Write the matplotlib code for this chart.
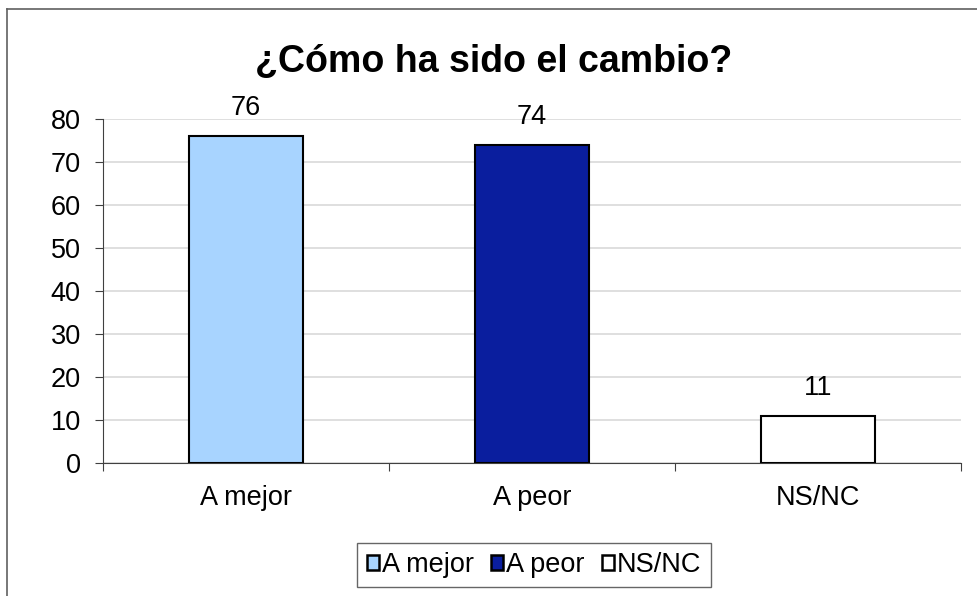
import matplotlib
matplotlib.use("Agg")
import matplotlib.pyplot as plt
from matplotlib.lines import Line2D
from matplotlib.patches import Patch
import numpy as np

categories = ["A mejor", "A peor", "NS/NC"]
values = [76, 74, 11]
colors = ["#A8D4FF", "#0A1E9E", "#FFFFFF"]
yticks = [0, 10, 20, 30, 40, 50, 60, 70, 80]
title = "¿Cómo ha sido el cambio?"

plt.rcParams['font.family'] = ['Liberation Sans', 'DejaVu Sans']
FS = 19.5

fig = plt.figure(figsize=(9.77, 5.96), dpi=100)
ax = fig.add_axes([103/977, 1-463/596, (961-103)/977, (463-119)/596])

x = np.arange(len(categories))
bars = ax.bar(x, values, width=0.4, color=colors, edgecolor="black", linewidth=1.5, zorder=3)

for xi, v in zip(x, values):
    ax.annotate(str(v), (xi, v), xytext=(0, 15), textcoords="offset points",
                ha="center", va="baseline", fontsize=FS)

ax.set_xlim(-0.5, len(categories) - 0.5)
ax.set_ylim(0, 80)
ax.set_yticks(yticks)
ax.set_yticklabels([str(t) for t in yticks], fontsize=FS)
ax.yaxis.grid(True, color="#D9D9D9", linewidth=1.2, zorder=0)
ax.set_axisbelow(True)

ax.set_xticks(np.arange(len(categories) + 1) - 0.5)
ax.set_xticklabels([])
ax.set_xticks(x, minor=True)
ax.set_xticklabels(categories, minor=True, fontsize=FS)
ax.tick_params(axis="x", which="minor", length=0, pad=16)
ax.tick_params(axis="x", which="major", length=6, direction="out", color="#404040")
ax.tick_params(axis="y", length=6, direction="out", color="#404040", pad=10)

for s in ["top", "right"]:
    ax.spines[s].set_visible(False)
ax.spines["left"].set_color("#404040")
ax.spines["bottom"].set_color("#404040")

fig.text(494/977, 1-72/596, title, ha="center", va="baseline", fontsize=27, fontweight="bold")

handles = [Patch(facecolor=c, edgecolor="black", linewidth=1.8) for c in colors]
leg = fig.legend(handles, categories, loc="center", bbox_to_anchor=(534/977, 1-565/596),
                 ncol=3, fontsize=FS, frameon=True, fancybox=False, edgecolor="#404040",
                 handlelength=0.45, handleheight=0.45, handletextpad=0.1, columnspacing=0.65,
                 borderpad=0.35)
leg.get_frame().set_linewidth(1.0)

fig.add_artist(Line2D([7/977, 7/977], [0, 1-9/596], transform=fig.transFigure, color="#606060", linewidth=1.2))
fig.add_artist(Line2D([7/977, 1], [1-9/596, 1-9/596], transform=fig.transFigure, color="#606060", linewidth=1.2))

fig.savefig("out.png", dpi=100)
